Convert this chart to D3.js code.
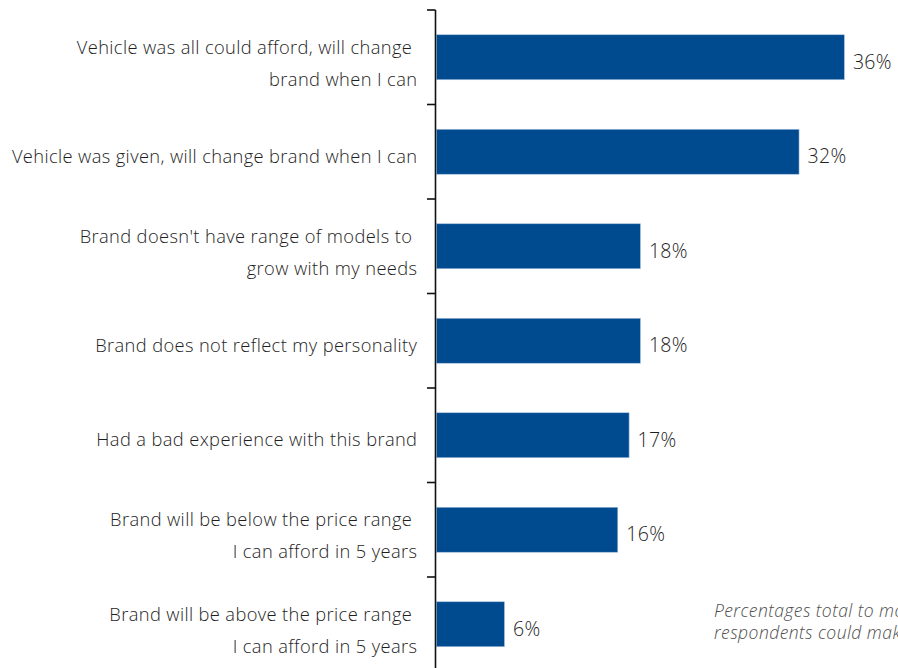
<!DOCTYPE html>
<html>
<head>
<meta charset="utf-8">
<script src="https://cdn.jsdelivr.net/npm/d3@7/dist/d3.min.js"></script>
<style>
  html, body { margin: 0; padding: 0; background: #fff; overflow: hidden; }
  svg { display: block; }
  text { font-family: "Open Sans", "Noto Sans", sans-serif; font-weight: 300; white-space: pre; }
</style>
</head>
<body>
<svg id="chart" width="898" height="668"></svg>
<script>
// Reasons respondents would switch brand (share of respondents, %)
const categories = [
  "Vehicle was all could afford, will change |brand when I can",
  "Vehicle was given, will change brand when I can",
  "Brand doesn't have range of models to |grow with my needs",
  "Brand does not reflect my personality",
  "Had a bad experience with this brand",
  "Brand will be below the price range |I can afford in 5 years",
  "Brand will be above the price range |I can afford in 5 years"
];
const values = [36, 32, 18, 18, 17, 16, 6];
const valueLabels = ["36%", "32%", "18%", "18%", "17%", "16%", "6%"];
const footnoteLines = [
  "Percentages total to more than 100% as",
  "respondents could make more than one choice"
];

const svg = d3.select("#chart");
const axisX = 435.5;
const barPad = 0.524;

const x = d3.scaleLinear().domain([0, 40]).range([436.5, 436.5 + 40 * 11.33]);
const y = d3.scaleBand()
  .domain(categories)
  .range([10, 10 + 7 * 94.5])
  .paddingInner(barPad)
  .paddingOuter(barPad / 2);

const step = y.step();

// Bars
svg.append("g").selectAll("rect")
  .data(values)
  .join("rect")
  .attr("x", x(0))
  .attr("y", (d, i) => y(categories[i]))
  .attr("width", d => x(d) - x(0))
  .attr("height", y.bandwidth())
  .attr("fill", "#004a8f")
  .attr("stroke", "#a9c3df")
  .attr("stroke-width", 0.6);

// Value labels
svg.append("g").selectAll("text")
  .data(values)
  .join("text")
  .attr("x", d => x(d) + 8.5)
  .attr("y", (d, i) => y(categories[i]) + y.bandwidth() / 2 + 11.5)
  .attr("font-size", 19.5)
  .attr("letter-spacing", 0.3)
  .attr("fill", "#1e1e1e")
  .text((d, i) => valueLabels[i]);

// Vertical axis line
svg.append("line")
  .attr("x1", axisX).attr("x2", axisX)
  .attr("y1", 10).attr("y2", 700)
  .attr("stroke", "#111").attr("stroke-width", 1.6);

// Tick marks at category boundaries
const boundaries = categories.map(c => y(c) - step * barPad / 2);
svg.append("g").selectAll("line")
  .data(boundaries)
  .join("line")
  .attr("x1", axisX - 8.5).attr("x2", axisX)
  .attr("y1", d => d).attr("y2", d => d)
  .attr("stroke", "#111").attr("stroke-width", 1.6);

// Category labels, right-aligned, one or two lines
const labelG = svg.append("g");
categories.forEach(c => {
  const lines = c.split("|");
  const cy = y(c) + y.bandwidth() / 2;
  const lh = 32;
  const first = lines.length === 1 ? cy + 11 : cy - 3.5;
  lines.forEach((ln, k) => {
    labelG.append("text")
      .attr("x", 417.4)
      .attr("y", first + k * lh)
      .attr("text-anchor", "end")
      .attr("font-size", 18.3)
      .attr("letter-spacing", 0.38)
      .attr("fill", "#1e1e1e")
      .text(ln);
  });
});

// Footnote
svg.append("g").selectAll("text")
  .data(footnoteLines)
  .join("text")
  .attr("x", 714)
  .attr("y", (d, i) => 617 + i * 22)
  .attr("font-size", 17.5)
  .attr("letter-spacing", 0.45)
  .attr("font-style", "italic")
  .attr("fill", "#4d4d4d")
  .text(d => d);
</script>
</body>
</html>
